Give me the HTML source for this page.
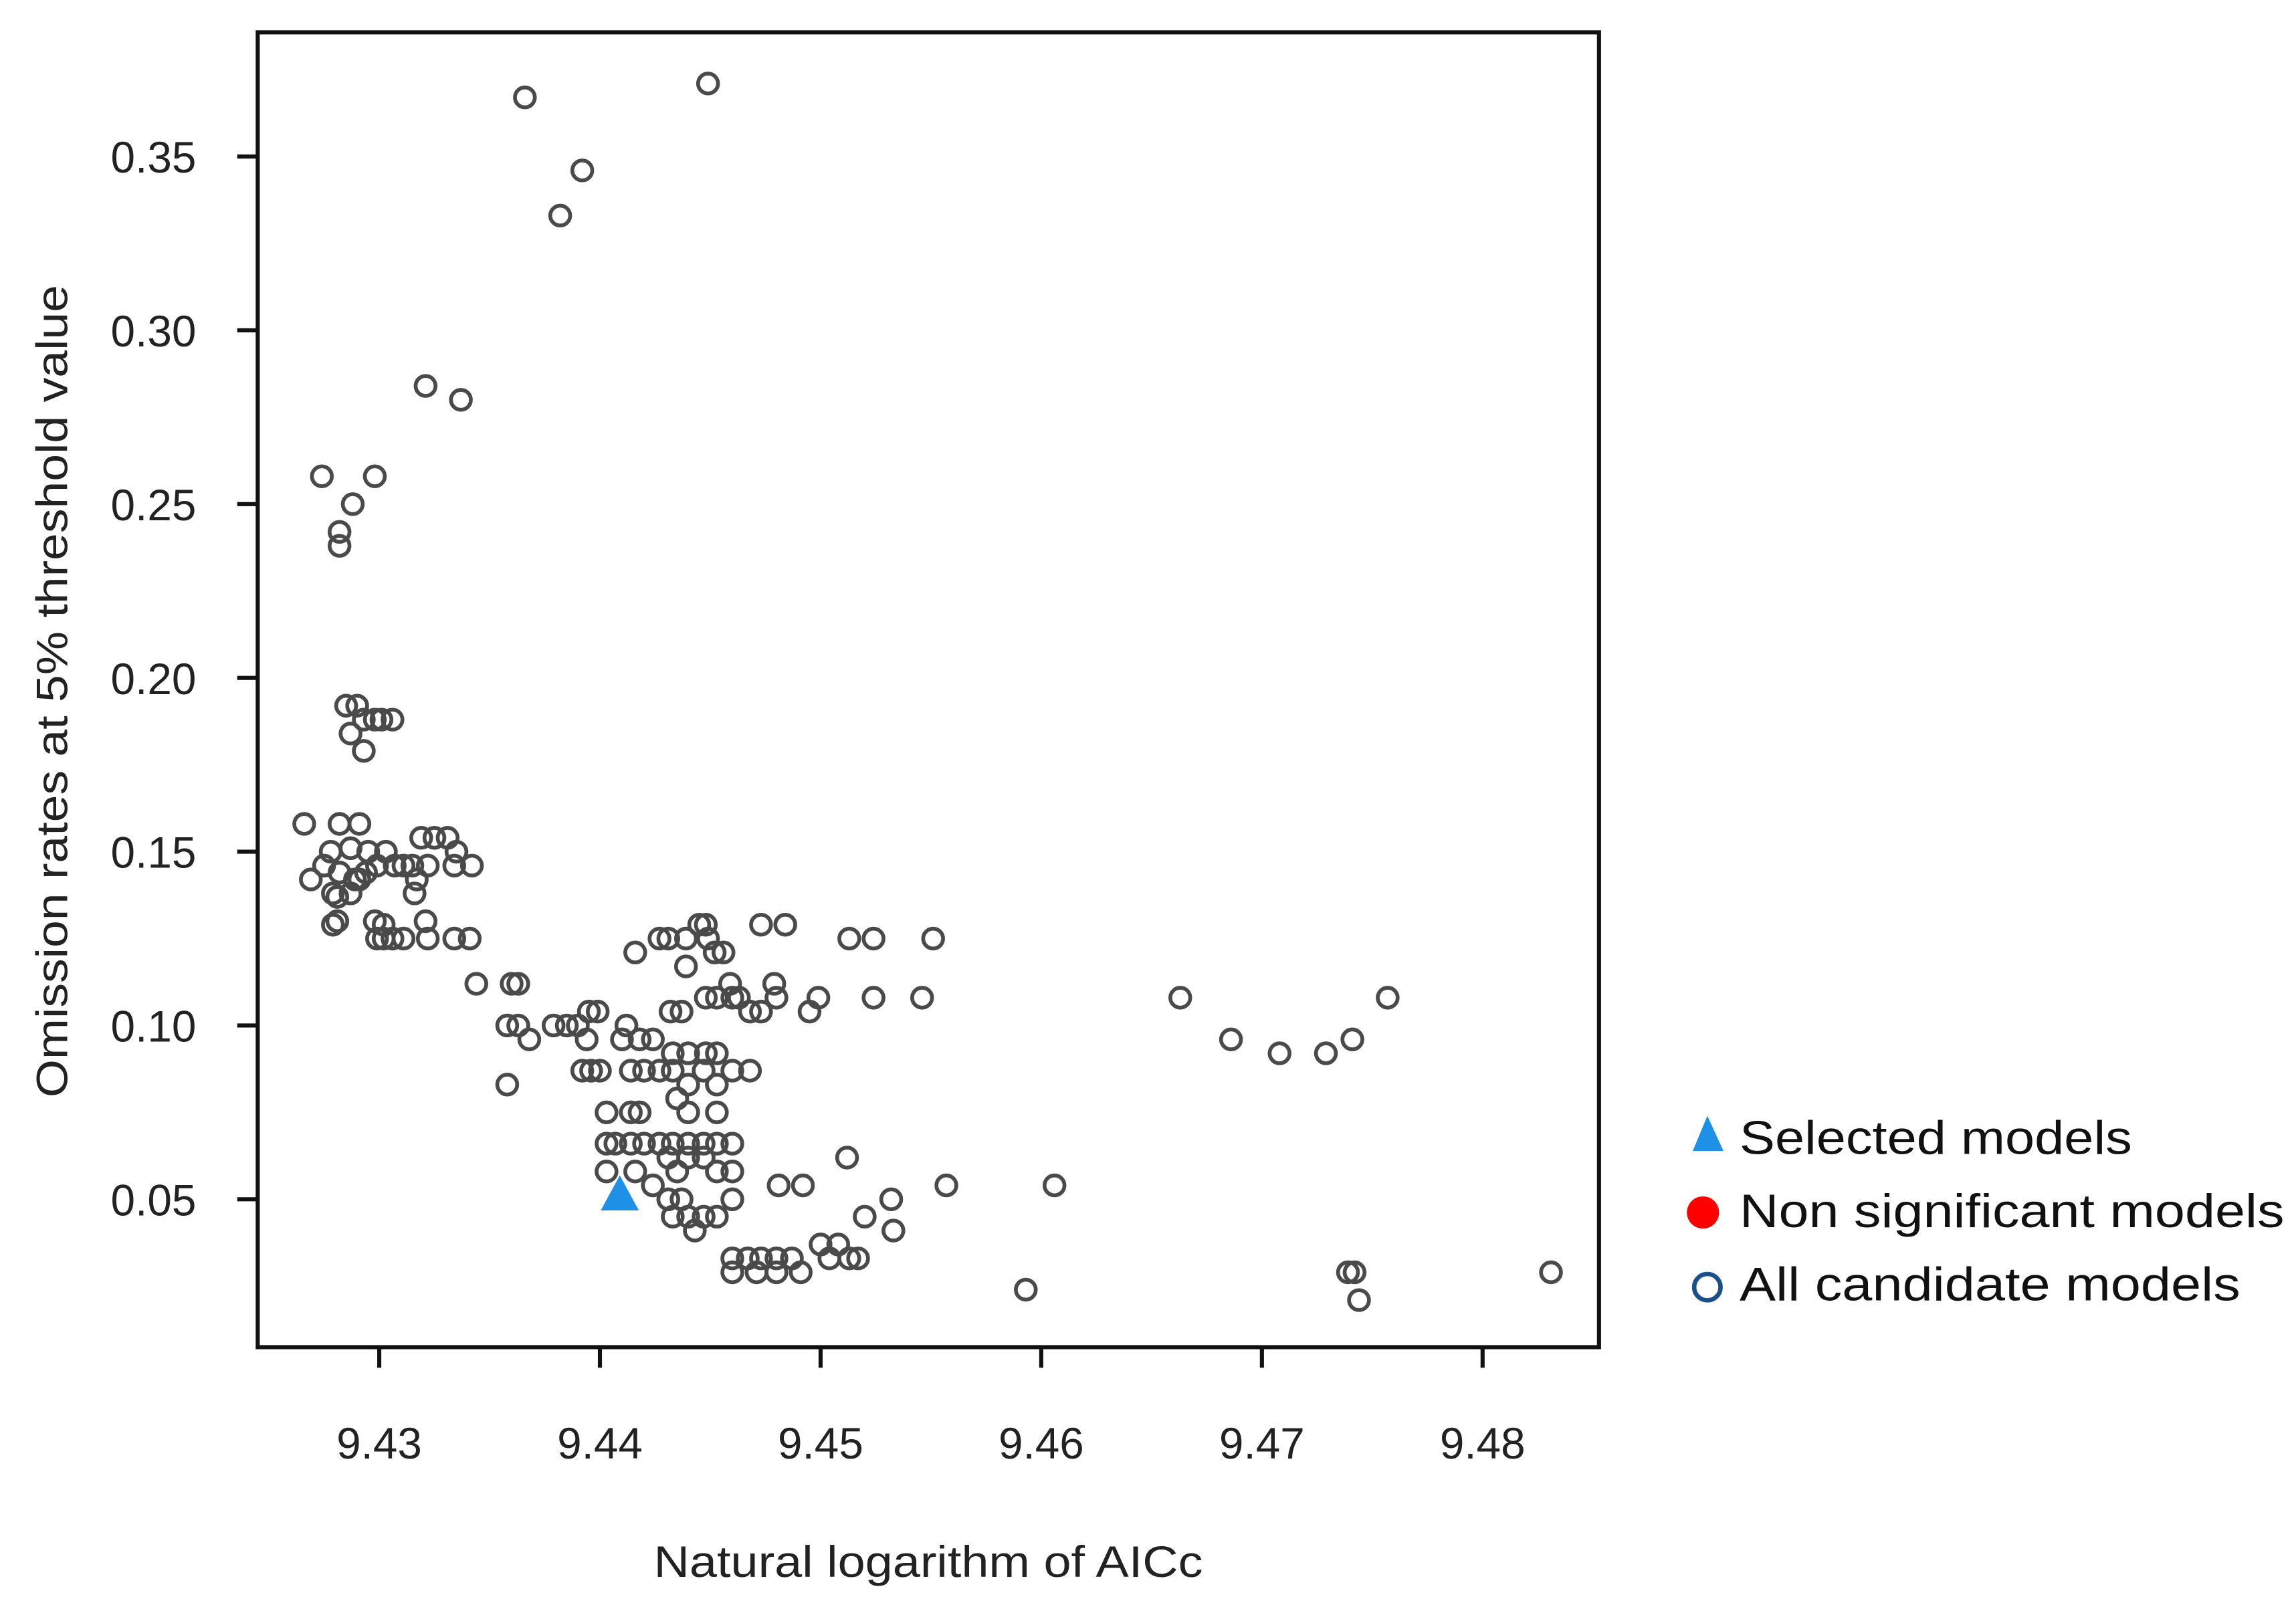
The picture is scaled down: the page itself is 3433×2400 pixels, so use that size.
<!DOCTYPE html>
<html><head><meta charset="utf-8"><style>html,body{margin:0;padding:0;background:#fff}svg{display:block}</style></head>
<body>
<svg id="chart" width="3433" height="2400" viewBox="0 0 1568 1096" xmlns="http://www.w3.org/2000/svg" font-family="Liberation Sans, sans-serif">
<rect x="176" y="22" width="916" height="898" fill="none" stroke="#111" stroke-width="2.8"/>
<g id="xaxis"></g>
<g id="yaxis"></g>
<g id="points"></g>
<g id="selected"></g>
<text x="634" y="1077" text-anchor="middle" font-size="30" fill="#222" textLength="375" lengthAdjust="spacingAndGlyphs">Natural logarithm of AICc</text>
<text transform="translate(46,472) rotate(-90)" text-anchor="middle" font-size="30" fill="#222" textLength="555" lengthAdjust="spacingAndGlyphs">Omission rates at 5% threshold value</text>
<g>
<polygon points="1166,762 1156,786 1177,786" fill="#1e90e6"/>
<text x="1188" y="788" font-size="32" fill="#111" textLength="268" lengthAdjust="spacingAndGlyphs">Selected models</text>
<circle cx="1163" cy="828" r="11" fill="#f00"/>
<text x="1188" y="838" font-size="32" fill="#111" textLength="372" lengthAdjust="spacingAndGlyphs">Non significant models</text>
<circle cx="1166" cy="879" r="9" fill="none" stroke="#1a4f8a" stroke-width="3"/>
<text x="1188" y="888" font-size="32" fill="#111" textLength="342" lengthAdjust="spacingAndGlyphs">All candidate models</text>
</g>
</svg>
<script>
const xTicks = [9.43, 9.44, 9.45, 9.46, 9.47, 9.48];
const yTicks = [0.05, 0.10, 0.15, 0.20, 0.25, 0.30, 0.35];
const xTickLabels = ["9.43", "9.44", "9.45", "9.46", "9.47", "9.48"];
const yTickLabels = ["0.05", "0.10", "0.15", "0.20", "0.25", "0.30", "0.35"];
const candX = [
9.4449,9.4366,9.4392,9.4382,9.4321,9.4337,9.4274,9.4298,9.4288,9.4282,9.4282,
9.4285,9.4290,9.4293,9.4298,9.4306,9.4287,9.4293,9.4301,
9.4266,9.4282,9.4291,9.4278,9.4287,9.4295,9.4303,9.4311,9.4319,9.4325,9.4331,9.4335,9.4342,
9.4269,9.4275,9.4282,9.4289,9.4294,9.4299,9.4307,9.4315,9.4322,9.4334,9.4279,9.4281,9.4287,9.4291,9.4316,9.4317,
9.4279,9.4281,9.4298,9.4302,9.4306,9.4311,9.4321,9.4322,9.4334,9.4341,9.4299,9.4302,
9.4344,9.4360,9.4363,9.4358,9.4363,9.4368,9.4379,9.4385,9.4390,9.4395,9.4399,9.4394,9.4392,9.4396,9.4400,9.4358,
9.4416,9.4427,9.4431,9.4439,9.4445,9.4448,9.4449,9.4452,9.4456,9.4439,9.4459,9.4432,9.4437,9.4448,9.4453,9.4460,9.4463,9.4468,9.4473,9.4480,9.4499,9.4495,9.4473,9.4484,9.4513,9.4524,9.4551,9.4524,9.4546,9.4479,
9.4412,9.4410,9.4418,9.4424,9.4433,9.4440,9.4448,9.4453,9.4414,9.4420,9.4427,9.4433,9.4440,9.4447,9.4453,9.4460,9.4468,
9.4403,9.4414,9.4418,9.4435,9.4440,9.4453,
9.4403,9.4407,9.4414,9.4420,9.4427,9.4433,9.4440,9.4447,9.4453,9.4460,
9.4431,9.4435,9.4440,9.4447,9.4453,9.4460,9.4403,9.4416,
9.4424,9.4431,9.4433,9.4440,9.4447,9.4453,9.4460,9.4443,9.4437,
9.4481,9.4492,9.4512,9.4520,9.4532,9.4533,9.4557,9.4606,
9.4460,9.4467,9.4473,9.4480,9.4487,9.4460,9.4471,9.4480,9.4491,9.4500,9.4508,9.4504,9.4513,9.4517,9.4593,
9.4663,9.4686,9.4708,9.4729,9.4741,9.4757,9.4739,9.4742,9.4744,9.4831
];
const candY = [
0.371,0.367,0.346,0.333,0.284,0.280,0.258,0.258,0.250,0.242,0.238,
0.192,0.192,0.188,0.188,0.188,0.184,0.179,0.188,
0.158,0.158,0.158,0.150,0.151,0.150,0.150,0.146,0.154,0.154,0.154,0.150,0.146,
0.142,0.146,0.144,0.142,0.144,0.146,0.146,0.146,0.146,0.146,0.138,0.137,0.138,0.142,0.138,0.142,
0.129,0.130,0.130,0.125,0.125,0.125,0.130,0.125,0.125,0.125,0.125,0.129,
0.112,0.112,0.112,0.100,0.100,0.096,0.100,0.100,0.100,0.104,0.104,0.096,0.087,0.087,0.087,0.083,
0.121,0.125,0.125,0.125,0.129,0.129,0.125,0.121,0.121,0.117,0.112,0.104,0.104,0.108,0.108,0.108,0.108,0.104,0.104,0.108,0.108,0.104,0.129,0.129,0.125,0.125,0.125,0.108,0.108,0.112,
0.100,0.096,0.096,0.096,0.092,0.092,0.092,0.092,0.087,0.087,0.087,0.087,0.083,0.087,0.083,0.087,0.087,
0.075,0.075,0.075,0.079,0.075,0.075,
0.066,0.066,0.066,0.066,0.066,0.066,0.066,0.066,0.066,0.066,
0.062,0.058,0.062,0.062,0.058,0.058,0.058,0.058,
0.054,0.050,0.045,0.045,0.045,0.045,0.050,0.041,0.050,
0.054,0.054,0.062,0.045,0.050,0.041,0.054,0.054,
0.033,0.033,0.033,0.033,0.033,0.029,0.029,0.029,0.029,0.037,0.037,0.033,0.033,0.033,0.024,
0.108,0.096,0.092,0.092,0.096,0.108,0.029,0.029,0.021,0.029
];
const selX = [9.4409];
const selY = [0.051];

const NS = "http://www.w3.org/2000/svg";
function sx(v){ return 259 + (v - 9.43) * 15070; }
function sy(v){ return 819 - (v - 0.05) * 2374; }

const xg = document.getElementById('xaxis');
xTicks.forEach((t, i) => {
  const l = document.createElementNS(NS, 'line');
  
  
  l.setAttribute('x1', sx(t)); l.setAttribute('x2', sx(t));
  l.setAttribute('y1', 920); l.setAttribute('y2', 934);
  l.setAttribute('stroke', '#111'); l.setAttribute('stroke-width', 2.8);
  xg.appendChild(l);
  const tx = document.createElementNS(NS, 'text');
  
  
  tx.setAttribute('x', sx(t)); tx.setAttribute('y', 996);
  tx.setAttribute('text-anchor', 'middle'); tx.setAttribute('font-size', 30); tx.setAttribute('fill', '#222');
  tx.textContent = xTickLabels[i];
  xg.appendChild(tx);
});
const yg = document.getElementById('yaxis');
yTicks.forEach((t, i) => {
  const l = document.createElementNS(NS, 'line');
  
  
  l.setAttribute('x1', 162); l.setAttribute('x2', 176);
  l.setAttribute('y1', sy(t)); l.setAttribute('y2', sy(t));
  l.setAttribute('stroke', '#111'); l.setAttribute('stroke-width', 2.8);
  yg.appendChild(l);
  const tx = document.createElementNS(NS, 'text');
  
  
  tx.setAttribute('x', 134); tx.setAttribute('y', sy(t) + 11);
  tx.setAttribute('text-anchor', 'end'); tx.setAttribute('font-size', 30); tx.setAttribute('fill', '#222');
  tx.textContent = yTickLabels[i];
  yg.appendChild(tx);
});
const pg = document.getElementById('points');
candX.forEach((x, i) => {
  const c = document.createElementNS(NS, 'circle');
  
  
  c.setAttribute('cx', sx(x)); c.setAttribute('cy', sy(candY[i]));
  c.setAttribute('r', 6.8); c.setAttribute('fill', 'none');
  c.setAttribute('stroke', '#4a4a4a'); c.setAttribute('stroke-width', 2.6);
  pg.appendChild(c);
});
const sg = document.getElementById('selected');
selX.forEach((x, i) => {
  const cx = sx(x), cy = sy(selY[i]);
  const p = document.createElementNS(NS, 'polygon');
  
  
  p.setAttribute('points', `${cx},${cy-14} ${cx-13},${cy+10} ${cx+13},${cy+10}`);
  p.setAttribute('fill', '#1e90e6');
  sg.appendChild(p);
});
</script>
</body></html>
